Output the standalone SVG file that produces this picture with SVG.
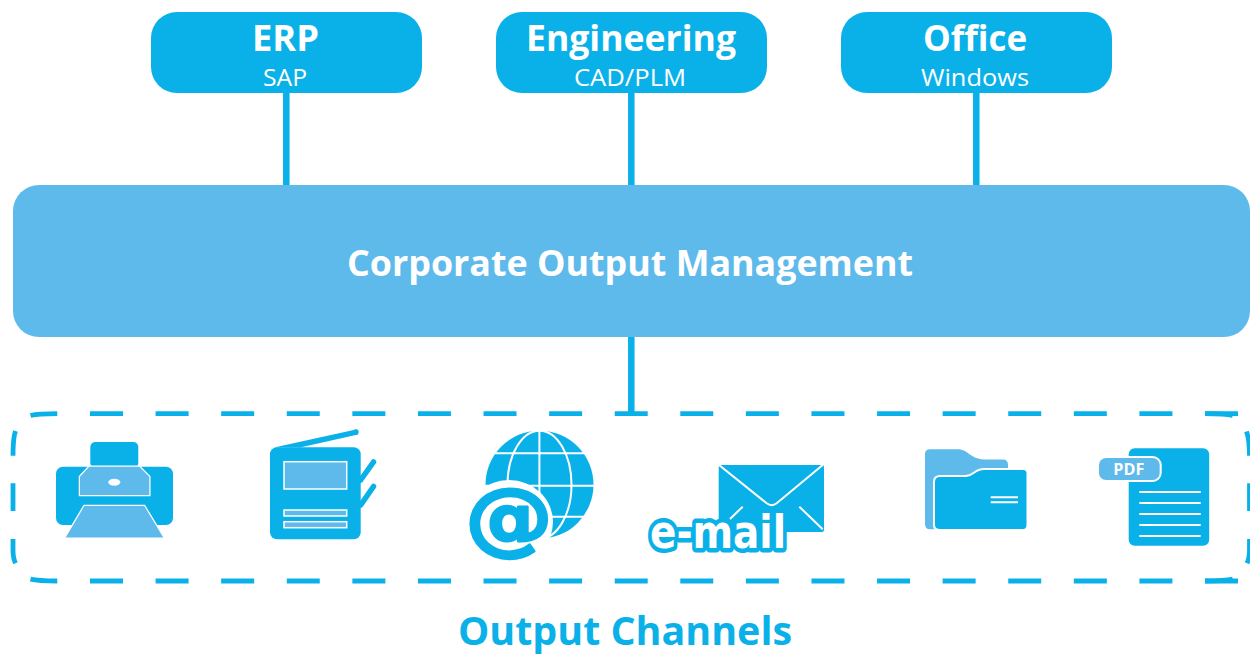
<svg xmlns="http://www.w3.org/2000/svg" width="1250" height="655" viewBox="0 0 1250 655">
<style>
text{font-family:"Open Sans","Noto Sans","Liberation Sans",sans-serif;text-anchor:middle}
.c{fill:#0AB1E9}.l{fill:#5FBAEC}
.h{font-size:36px;font-weight:700;fill:#fff}
.s{font-size:24px;fill:#fff}
.w{stroke:#fff;stroke-width:2;fill:none}
.wl{stroke:#fff;stroke-width:2.500;paint-order:stroke}
.conn{stroke:#0AB1E9;stroke-width:6.500;fill:none}
.a{stroke:#0AB1E9;stroke-width:5.500;stroke-linecap:round;fill:none}
.d{stroke:#0AB1E9;stroke-width:4.800;fill:none}
.dj{font-family:"DejaVu Sans",sans-serif;font-weight:700;stroke-linejoin:round;paint-order:stroke}
</style>
<g id="connectors">
<path class="conn" d="M286.300 93V185M631.300 93V185M976.300 93V185M631.300 337V413"/>
</g>
<g id="erp"><rect class="c" x="151" y="12" width="271" height="81" rx="26"/><text class="h" x="285.500" y="51" textLength="67" lengthAdjust="spacingAndGlyphs">ERP</text><text class="s" x="285" y="86" textLength="44" lengthAdjust="spacingAndGlyphs">SAP</text></g>
<g id="engineering"><rect class="c" x="496" y="12" width="271" height="81" rx="26"/><text class="h" x="631" y="51" textLength="210" lengthAdjust="spacingAndGlyphs">Engineering</text><text class="s" x="630" y="86" textLength="112" lengthAdjust="spacingAndGlyphs">CAD/PLM</text></g>
<g id="office"><rect class="c" x="841" y="12" width="271" height="81" rx="26"/><text class="h" x="975" y="51" textLength="104" lengthAdjust="spacingAndGlyphs">Office</text><text class="s" x="975" y="86" textLength="108" lengthAdjust="spacingAndGlyphs">Windows</text></g>
<g id="com"><rect class="l" x="13" y="185" width="1237" height="152" rx="26"/><text x="630" y="276" font-size="36" font-weight="700" fill="#fff" textLength="566" lengthAdjust="spacingAndGlyphs">Corporate Output Management</text></g>
<g id="channels">
<path class="d" stroke-dasharray="33 32.588" d="M90 413.700H1238M90 581H1238"/>
<path class="d" d="M30.500 415.500Q38 413.700 57.300 413.700M30.500 579.200Q38 581 57.300 581M15.500 431Q13 438 13 455.700M13 483.300V511M13 539V550Q13 558 15.500 563.300M1232.700 415.500Q1225 413.700 1205 413.700M1232.700 579.200Q1225 581 1205 581M1246.500 431.500Q1249.500 440 1249.500 455.700M1249.500 483.300V511M1249.500 539V550Q1249.500 558 1247 563.300"/>
<text x="625" y="645" font-size="40" font-weight="700" fill="#0AB1E9" textLength="334" lengthAdjust="spacingAndGlyphs">Output Channels</text>
</g>
<g id="printer">
<rect class="c" x="90.300" y="442" width="48" height="26" rx="5"/>
<rect class="c" x="56" y="466.700" width="117" height="58.300" rx="7"/>
<path class="l wl" d="M80 476.700L89.300 466.700H139.300L149.300 476.700V495H80Z"/>
<ellipse cx="114.300" cy="482.300" rx="6" ry="3.500" fill="#fff"/>
<path class="l wl" d="M65.700 537.500L84.300 506H144.300L163.300 537.500Z"/>
</g>
<g id="scanner">
<path class="c" d="M274 447.600L356 429.500L358 434.500L300 447.600Z"/>
<circle class="c" cx="356" cy="432" r="2.700"/>
<path class="a" d="M360.700 480L373.500 462M360.700 505L373.500 486.500"/>
<rect class="c" x="270" y="447.300" width="90.700" height="92" rx="7"/>
<rect class="l" stroke="#fff" stroke-width="1.500" x="284" y="461.700" width="62.700" height="27.300"/>
<rect class="l" stroke="#fff" stroke-width="1.500" x="284" y="510" width="62.700" height="6"/>
<rect class="l" stroke="#fff" stroke-width="1.500" x="284" y="521.700" width="62.700" height="6"/>
</g>
<g id="web">
<circle class="c" cx="539.500" cy="484.700" r="54"/>
<ellipse class="w" cx="539.500" cy="484.700" rx="32" ry="54"/>
<path class="w" d="M539.400 430V540M495 453.300H584M485 485.700H594M495 516.700H584"/>
<ellipse cx="509" cy="522" rx="44" ry="42" fill="#fff"/>
<text class="dj" x="509" y="545" font-size="80" fill="#0AB1E9" stroke="#0AB1E9" stroke-width="2.500" textLength="88" lengthAdjust="spacingAndGlyphs">@</text>
</g>
<g id="email">
<rect class="c" x="718.700" y="465" width="105.300" height="67" rx="2"/>
<path class="w" d="M719 465L766.700 503.300Q771.700 507 776.700 503.300L822.700 465M742.700 506.700L730 519M799.300 506.700L822.700 529.300"/>
<text class="dj" x="718" y="548" font-size="47" fill="#fff" stroke="#0AB1E9" stroke-width="9" textLength="136" lengthAdjust="spacingAndGlyphs">e-mail</text>
</g>
<g id="folder">
<path class="l" d="M930 449.300H958C968 449.300 970 459 984 459.500H1003Q1008 459.500 1008 465V475H940V529.300H930Q925 529.300 925 524V454Q925 449.300 930 449.300Z"/>
<path class="c" stroke="#fff" stroke-width="2" d="M940 476H966C974 476 974 469 984 469H1023Q1027.500 469 1027.500 473V525Q1027.500 530 1023 530H940Q934 530 934 525V482Q934 476 940 476Z"/>
<path class="w" d="M990.700 497.300H1018M990.700 502.300H1018" stroke-width="1.500"/>
</g>
<g id="pdf">
<rect class="c" x="1128.700" y="448.300" width="80.500" height="97.500" rx="6"/>
<rect class="l" stroke="#fff" stroke-width="2" x="1098" y="457" width="62.700" height="24" rx="8"/>
<text x="1128.800" y="474.500" font-size="15.500" font-weight="700" fill="#fff" textLength="31" lengthAdjust="spacingAndGlyphs">PDF</text>
<path class="w" d="M1139.300 492H1200.700M1139.300 503H1200.700M1139.300 514H1200.700M1139.300 525H1200.700M1139.300 536H1200.700"/>
</g>
</svg>
